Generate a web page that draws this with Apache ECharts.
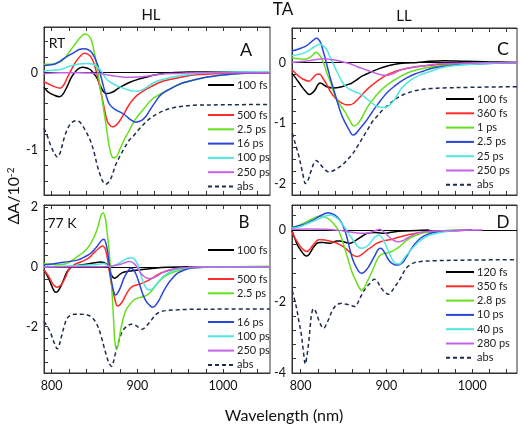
<!DOCTYPE html>
<html><head><meta charset="utf-8">
<script src="https://cdn.jsdelivr.net/npm/echarts@6/dist/echarts.min.js"></script>
<style>html,body{margin:0;padding:0;background:#fff}#c{width:520px;height:431px}</style>
</head><body><div id="c"></div>
<script>
// ---------- Panel A (HL, RT) ----------
const A_100fs = [[791,-0.19],[796,-0.25],[802.7,-0.29],[809,-0.31],[813,-0.28],[818,-0.18],[822,-0.08],[826,-0.01],[831,0.05],[836,0.07],[841,0.06],[845.6,0.035],[849,-0.01],[853,-0.07],[856,-0.15],[859,-0.22],[862,-0.26],[865,-0.27],[869,-0.26],[873,-0.24],[878,-0.2],[884.6,-0.16],[892,-0.12],[900,-0.09],[910,-0.06],[920,-0.03],[930,-0.01],[940,0.0],[960,0.01],[1000,0.01],[1055,0.0]];
const A_500fs = [[791,-0.117],[797,-0.15],[803,-0.18],[810,-0.2],[814,-0.16],[818,-0.07],[823,0.04],[828,0.14],[833,0.21],[838,0.25],[842,0.24],[846,0.2],[850,0.1],[853,-0.03],[856,-0.17],[859,-0.33],[862,-0.49],[865,-0.63],[868,-0.68],[871,-0.7],[875,-0.68],[879,-0.63],[884,-0.54],[889,-0.44],[894,-0.36],[900,-0.29],[908,-0.23],[916,-0.18],[925,-0.13],[935,-0.095],[950,-0.06],[966,-0.03],[1000,-0.01],[1055,0]];
const A_2p5ps = [[791,0.108],[800,0.11],[810,0.14],[816,0.2],[822,0.29],[828,0.38],[833,0.45],[838.6,0.5],[842,0.49],[845.6,0.44],[848,0.35],[851,0.19],[853,0.06],[855,-0.07],[858,-0.28],[861,-0.5],[864,-0.72],[867,-0.94],[869.5,-1.06],[872,-1.1],[875,-1.09],[877,-1.06],[880,-0.98],[884.6,-0.87],[890,-0.76],[896,-0.63],[902,-0.54],[908,-0.46],[914,-0.38],[920,-0.32],[931,-0.25],[940,-0.2],[947,-0.16],[955,-0.13],[966,-0.095],[980,-0.06],[1000,-0.03],[1020,-0.01],[1055,0.01]];
const A_16ps = [[791,0.09],[797,0.1],[803,0.108],[810,0.15],[818,0.21],[826,0.26],[832,0.3],[838,0.31],[842,0.3],[846,0.27],[850,0.2],[853,0.12],[855,0.056],[858,-0.07],[861,-0.2],[864,-0.31],[867,-0.4],[871,-0.45],[875,-0.48],[880,-0.51],[885,-0.54],[890,-0.59],[894,-0.62],[898,-0.64],[902,-0.63],[906,-0.61],[911,-0.55],[916,-0.46],[921,-0.38],[927,-0.29],[935,-0.23],[947,-0.16],[956,-0.12],[966,-0.095],[980,-0.06],[1000,-0.03],[1020,-0.01],[1055,0]];
const A_100ps = [[791,0.026],[810,0.04],[820,0.08],[830,0.11],[841.7,0.12],[848,0.11],[853,0.08],[858,0.02],[863,-0.07],[868,-0.12],[874.8,-0.16],[881,-0.19],[888.5,-0.22],[894,-0.235],[900,-0.24],[906,-0.22],[912,-0.18],[919,-0.13],[927,-0.095],[940,-0.06],[955,-0.03],[980,0.0],[1020,0.01],[1055,0.01]];
const A_250ps = [[791,-0.01],[810,0.0],[830,0.0],[845,-0.005],[855,-0.01],[866,-0.03],[878,-0.05],[888.5,-0.06],[900,-0.055],[915,-0.04],[927,-0.02],[945,-0.01],[970,0],[1055,0]];
const A_abs = [[791,-0.72],[795,-0.82],[798.8,-0.94],[803,-1.04],[806.6,-1.09],[810,-1.03],[814.4,-0.85],[818,-0.74],[822,-0.66],[828,-0.62],[832,-0.63],[835.8,-0.68],[840,-0.76],[845.6,-0.89],[850,-1.05],[853,-1.19],[856,-1.3],[859,-1.39],[863,-1.44],[866,-1.42],[869,-1.37],[872,-1.28],[874.8,-1.19],[880,-1.07],[884.6,-0.98],[890,-0.88],[896,-0.81],[902,-0.73],[908,-0.66],[915,-0.59],[923.5,-0.53],[931,-0.49],[939,-0.46],[954.7,-0.43],[966,-0.42],[1000,-0.415],[1055,-0.41]];

// ---------- Panel B (HL, 77 K) ----------
const B_100fs = [[791,-0.1],[795,-0.3],[798.8,-0.55],[802,-0.76],[804.6,-0.85],[807,-0.82],[810.5,-0.66],[814,-0.42],[818,-0.16],[822,-0.03],[826,0.03],[834,0.07],[841.7,0.1],[850,0.14],[857,0.17],[861,0.15],[865,0.07],[867,-0.05],[869,-0.21],[871,-0.33],[873,-0.38],[876,-0.34],[878.7,-0.27],[882,-0.2],[886.5,-0.16],[896,-0.12],[908,-0.08],[920,-0.04],[935,-0.01],[960,0.01],[1000,0.01],[1055,0]];
const B_500fs = [[791,-0.1],[795,-0.25],[798.8,-0.44],[802,-0.6],[805.8,-0.68],[809,-0.65],[812.4,-0.55],[816,-0.35],[820,-0.1],[826,0.07],[832,0.15],[837.8,0.21],[844,0.32],[849.5,0.48],[855,0.62],[859,0.7],[861,0.68],[863,0.57],[865,0.3],[867,-0.1],[870,-0.6],[873,-0.99],[875,-1.22],[876.8,-1.31],[879,-1.29],[882.6,-1.16],[887,-0.92],[892,-0.71],[896,-0.63],[900,-0.6],[905,-0.55],[910,-0.49],[916,-0.4],[923.5,-0.27],[930,-0.18],[939,-0.1],[950,-0.05],[960,-0.02],[1000,0],[1055,0]];
const B_2p5ps = [[791,0.12],[800,0.09],[806.6,0.07],[812,0.08],[818,0.12],[824,0.22],[830,0.35],[836,0.47],[841.7,0.63],[847,0.86],[851.4,1.13],[855,1.45],[857,1.69],[859,1.8],[860,1.82],[861.5,1.75],[863,1.57],[865,1.1],[867,0.57],[869,-0.2],[871,-1.11],[872.5,-1.9],[873.6,-2.45],[875.6,-2.76],[877,-2.7],[878.7,-2.45],[881,-2.05],[884.6,-1.61],[888,-1.38],[892.4,-1.22],[896,-1.11],[900,-1.05],[904,-1.02],[908,-0.99],[912,-0.93],[915.8,-0.83],[920,-0.68],[925.5,-0.49],[932,-0.32],[939,-0.21],[947,-0.13],[954.7,-0.08],[966,-0.03],[990,0],[1055,0.02]];
const B_16ps = [[791,0.07],[800,0.1],[814.4,0.16],[830,0.23],[840,0.36],[845.6,0.46],[852,0.65],[857,0.85],[859.5,0.92],[861,0.93],[863,0.82],[865,0.57],[867,0.15],[869,-0.32],[871,-0.66],[873,-0.88],[874.8,-0.94],[877,-0.88],[880.7,-0.66],[884,-0.4],[888.5,-0.16],[891,-0.06],[893,-0.04],[895,-0.08],[898,-0.21],[902,-0.52],[906,-0.88],[910,-1.14],[913.8,-1.27],[917.7,-1.35],[921,-1.3],[925.5,-1.11],[930,-0.85],[935,-0.6],[941,-0.38],[947,-0.21],[955,-0.1],[962.5,-0.04],[980,-0.01],[1000,0],[1055,0]];
const B_100ps = [[791,0.01],[820,0.03],[849.5,0.07],[857,0.1],[861,0.12],[864,0.08],[867,0.01],[870,0.02],[874.8,0.07],[880,0.15],[884.6,0.23],[889,0.29],[893,0.31],[896,0.28],[900,0.12],[903,-0.15],[906,-0.44],[909,-0.65],[912,-0.75],[915.8,-0.77],[918,-0.72],[921.6,-0.6],[926,-0.45],[931,-0.3],[939,-0.16],[947,-0.08],[960,-0.02],[980,0],[1055,0]];
const B_250ps = [[791,0],[860,0.01],[870,0.03],[880.7,0.09],[886,0.15],[890.4,0.18],[893,0.17],[896,0.12],[900,-0.02],[904,-0.21],[908,-0.32],[912,-0.38],[915.8,-0.39],[919,-0.36],[923.5,-0.3],[929,-0.2],[935,-0.12],[945,-0.05],[960,-0.02],[980,0],[1055,0]];
const B_abs = [[791,-1.83],[795,-2.0],[798.8,-2.22],[803,-2.55],[806.6,-2.75],[809,-2.6],[812.4,-2.22],[815,-1.95],[818,-1.72],[822,-1.62],[826,-1.59],[834,-1.59],[841.7,-1.61],[848,-1.72],[853,-1.94],[857,-2.25],[861,-2.67],[864,-2.98],[867,-3.23],[870,-3.34],[872,-3.2],[873.6,-3.0],[877,-2.62],[880.7,-2.28],[884,-2.1],[888.5,-1.98],[893,-1.92],[897,-1.95],[900,-2.0],[903,-2.05],[906,-2.09],[909,-2.03],[912,-1.94],[916,-1.8],[919.7,-1.66],[923,-1.57],[927.5,-1.5],[935,-1.46],[947,-1.44],[966,-1.42],[1000,-1.415],[1055,-1.41]];

// ---------- Panel C (LL, RT) ----------
const C_100fs = [[790,-0.18],[795,-0.27],[801.5,-0.4],[806,-0.48],[810,-0.53],[813,-0.51],[817,-0.45],[820,-0.37],[822.8,-0.34],[826,-0.36],[830.6,-0.4],[838,-0.42],[848,-0.4],[854,-0.37],[859.6,-0.34],[865,-0.29],[871,-0.23],[877,-0.19],[883,-0.15],[890,-0.11],[898,-0.07],[910,-0.03],[922,-0.01],[935.7,0],[950,0.02],[967,0.03],[990,0.02],[1020,0.01],[1052,0]];
const C_360fs = [[790,-0.12],[795,-0.19],[800,-0.25],[805,-0.29],[810,-0.31],[814,-0.26],[818,-0.2],[822,-0.19],[826,-0.26],[831,-0.38],[836.4,-0.52],[842,-0.61],[848,-0.67],[853,-0.7],[858,-0.7],[862,-0.67],[866,-0.62],[870,-0.56],[875,-0.48],[881,-0.4],[890,-0.3],[900,-0.21],[908,-0.16],[917,-0.12],[930,-0.08],[948,-0.05],[970,-0.03],[990,-0.02],[1020,-0.01],[1052,0]];
const C_1ps = [[790,0.08],[797,0.06],[803.9,0.055],[809,0.07],[814,0.12],[818,0.17],[821,0.14],[824.8,0.06],[828,-0.06],[831,-0.19],[835,-0.33],[840,-0.55],[846,-0.7],[852,-0.82],[857,-0.95],[862,-1.05],[866,-1.02],[869.8,-0.95],[874,-0.84],[879.5,-0.7],[885,-0.6],[889,-0.53],[895,-0.44],[900.8,-0.37],[908,-0.3],[916.3,-0.23],[925,-0.17],[935.7,-0.12],[950,-0.08],[966,-0.05],[990,-0.03],[1020,-0.01],[1052,0]];
const C_2p5ps = [[790,0.19],[795,0.21],[801,0.24],[806,0.27],[810,0.31],[815,0.37],[818.5,0.4],[821,0.38],[823.5,0.32],[826,0.2],[829,0.05],[832,-0.12],[835,-0.28],[839,-0.47],[843,-0.66],[847,-0.84],[851,-0.97],[856,-1.1],[861,-1.2],[864,-1.18],[868,-1.11],[875.6,-0.98],[880,-0.89],[885.3,-0.78],[891,-0.67],[896.9,-0.56],[902,-0.48],[908.6,-0.4],[916,-0.32],[924,-0.25],[933,-0.19],[943.4,-0.14],[952,-0.1],[962.8,-0.07],[980,-0.04],[1010,-0.02],[1052,0]];
const C_25ps = [[790,0.11],[797,0.13],[803,0.15],[810,0.2],[816,0.26],[822.8,0.3],[826,0.28],[830.6,0.21],[834,0.1],[838.5,-0.04],[843,-0.17],[848,-0.31],[853,-0.4],[859.6,-0.46],[866,-0.5],[871,-0.53],[877,-0.6],[883,-0.67],[888,-0.72],[893,-0.74],[898,-0.74],[902,-0.72],[906,-0.67],[910,-0.6],[916.3,-0.45],[923,-0.35],[931.8,-0.26],[940,-0.2],[951,-0.15],[962.8,-0.09],[980,-0.05],[1010,-0.02],[1052,0]];
const C_250ps = [[790,0],[805,0.02],[815,0.04],[826.7,0.06],[835,0.05],[844,0.03],[852,0.0],[858,-0.02],[866,-0.07],[874,-0.11],[881.4,-0.15],[890,-0.19],[897,-0.21],[902,-0.21],[907,-0.19],[912.4,-0.15],[920,-0.11],[935.7,-0.07],[950,-0.04],[962,-0.02],[990,-0.01],[1052,0]];
const C_abs = [[790.3,-1.17],[794,-1.35],[798,-1.55],[802,-1.8],[805.8,-2.0],[808.5,-1.95],[811.6,-1.82],[815,-1.68],[818,-1.62],[821,-1.65],[825,-1.72],[829,-1.78],[833,-1.81],[838,-1.79],[842.7,-1.75],[848,-1.7],[854.3,-1.61],[860,-1.52],[866,-1.39],[872,-1.25],[877.6,-1.12],[883,-0.99],[889,-0.89],[896,-0.78],[904.7,-0.67],[912,-0.59],[920,-0.53],[930,-0.48],[939.5,-0.45],[952,-0.43],[966,-0.42],[1000,-0.41],[1052,-0.4]];

// ---------- Panel D (LL, 77 K) ----------
const D_120fs = [[790,-0.02],[794,-0.28],[797,-0.45],[801.5,-0.61],[804,-0.69],[807.3,-0.73],[810,-0.68],[813,-0.56],[816,-0.45],[819,-0.37],[823,-0.35],[826.7,-0.35],[830,-0.36],[834.4,-0.37],[838,-0.34],[842,-0.31],[846,-0.31],[850,-0.33],[854,-0.36],[857.7,-0.37],[861,-0.34],[865.5,-0.27],[870,-0.2],[875,-0.12],[880,-0.08],[886.8,-0.07],[892,-0.08],[896,-0.09],[902,-0.08],[910,-0.05],[920,-0.03],[935,-0.01],[950,0]];
const D_350fs = [[790,-0.04],[794,-0.25],[798,-0.4],[801.5,-0.51],[805,-0.58],[807.3,-0.6],[810,-0.56],[813,-0.47],[817,-0.35],[821,-0.27],[825,-0.27],[828.6,-0.28],[834,-0.31],[840,-0.35],[845,-0.4],[850,-0.47],[854,-0.55],[857.7,-0.63],[861,-0.7],[865,-0.74],[868,-0.73],[873,-0.65],[878,-0.55],[883,-0.47],[888,-0.38],[893,-0.33],[898,-0.29],[902,-0.28],[908,-0.25],[914,-0.2],[921,-0.16],[928,-0.12],[940,-0.07],[955,-0.04],[975,-0.02],[1000,0]];
const D_2p8ps = [[790,0.07],[795,0.1],[801.5,0.17],[808,0.24],[815,0.33],[820,0.37],[824.8,0.39],[829,0.36],[834.4,0.28],[839,0.16],[844,0.0],[848,-0.25],[852,-0.56],[856,-0.88],[859.6,-1.16],[863,-1.35],[866,-1.5],[869,-1.64],[871,-1.69],[874,-1.62],[877,-1.47],[881.4,-1.26],[886,-1.0],[891,-0.75],[896,-0.66],[900.8,-0.64],[906,-0.6],[910,-0.55],[916,-0.45],[922,-0.32],[928,-0.22],[935,-0.14],[943.4,-0.08],[955,-0.04],[970,-0.01],[985,0]];
const D_10ps = [[790,0.07],[795,0.1],[801.5,0.14],[808,0.2],[815,0.28],[820,0.36],[824.8,0.42],[828.5,0.46],[832.5,0.48],[836,0.46],[840,0.42],[844,0.33],[848,0.19],[851,0.02],[853.8,-0.19],[856.5,-0.45],[859.6,-0.74],[862.5,-0.93],[865.5,-1.07],[868,-1.17],[871,-1.21],[874,-1.18],[877,-1.1],[879,-1.04],[883,-0.87],[886.8,-0.7],[890,-0.56],[892.6,-0.51],[895,-0.53],[898.4,-0.65],[901,-0.78],[904,-0.88],[907,-0.94],[911,-0.98],[914,-0.98],[917,-0.94],[920,-0.88],[924,-0.72],[928,-0.56],[933,-0.39],[939.5,-0.23],[947,-0.13],[955,-0.07],[970,-0.03],[1000,0]];
const D_40ps = [[790,0.05],[800,0.1],[809,0.19],[816,0.26],[824.8,0.35],[830,0.4],[834.4,0.42],[838,0.4],[844,0.3],[848,0.18],[852,0.05],[856,-0.1],[859.6,-0.23],[863,-0.35],[867,-0.47],[871,-0.51],[875,-0.49],[879,-0.42],[883,-0.3],[886.8,-0.19],[891.4,-0.14],[895,-0.22],[898.4,-0.37],[902,-0.58],[906,-0.79],[909,-0.9],[912,-0.94],[915,-0.95],[918,-0.88],[922,-0.74],[927,-0.6],[931.8,-0.47],[937,-0.34],[943,-0.23],[950,-0.15],[959,-0.09],[970,-0.04],[985,0]];
const D_280ps = [[790,0.02],[810,0.03],[830,0.02],[845,-0.01],[856,-0.05],[866,-0.08],[875,-0.09],[882,-0.06],[888.7,0.0],[892,0.02],[896,-0.03],[900,-0.12],[904.6,-0.23],[909,-0.3],[914,-0.33],[919,-0.3],[924,-0.23],[930,-0.15],[935.6,-0.09],[945,-0.05],[955,-0.03],[980,-0.01],[1012,0]];
const D_abs = [[790.3,-1.7],[793,-1.95],[795.7,-2.23],[798,-2.55],[800.7,-2.89],[803,-3.35],[805.6,-3.75],[807.5,-3.5],[809.3,-3.17],[811,-2.75],[812.4,-2.42],[815,-2.2],[818,-2.3],[821,-2.51],[825,-2.72],[827,-2.75],[830,-2.63],[832.5,-2.51],[836,-2.3],[840,-2.14],[844,-2.07],[848,-2.05],[852,-2.07],[856,-2.09],[860,-2.12],[864,-2.14],[867,-2.02],[871,-1.82],[876,-1.62],[881,-1.49],[886,-1.38],[889,-1.42],[892,-1.55],[895,-1.66],[899,-1.76],[902.5,-1.8],[906,-1.72],[910,-1.58],[914,-1.44],[918,-1.28],[922,-1.1],[926,-1.0],[931.8,-0.92],[940,-0.88],[955,-0.86],[1000,-0.84],[1052,-0.83]];

// ---------- names and ticks ----------
const A_names = ['100 fs','500 fs','2.5 ps','16 ps','100 ps','250 ps','abs'];
const B_names = ['100 fs','500 fs','2.5 ps','16 ps','100 ps','250 ps','abs'];
const C_names = ['100 fs','360 fs','1 ps','2.5 ps','25 ps','250 ps','abs'];
const D_names = ['120 fs','350 fs','2.8 ps','10 ps','40 ps','280 ps','abs'];
const xTicks = [800,820,840,860,880,900,920,940,960,980,1000,1020,1040];
const xLabels = [800,900,1000];
const A_yTicks = [-1.4,-1.2,-1,-0.8,-0.6,-0.4,-0.2,0,0.2,0.4];
const A_yLabels = [-1,0];
const B_yTicks = [-3.2,-2.8,-2.4,-2,-1.6,-1.2,-0.8,-0.4,0,0.4,0.8,1.2,1.6,2];
const B_yLabels = [-2,0,2];
const C_yTicks = [-2,-1.8,-1.6,-1.4,-1.2,-1,-0.8,-0.6,-0.4,-0.2,0,0.2,0.4];
const C_yLabels = [-2,-1,0];
const D_yTicks = [-4,-3.6,-3.2,-2.8,-2.4,-2,-1.6,-1.2,-0.8,-0.4,0,0.4];
const D_yLabels = [-4,-2,0];

const colors = ['#000000','#ff2a2a','#66e01e','#2a46d6','#4fe6e0','#c462e6','#1e2c4c'];
const FONT = 'Lato, "Liberation Sans", sans-serif';

const panels = [
  {id:'A', grid:{left:44, top:27, width:226, height:168}, x:[791,1055], y:[-1.58,0.59], yT:A_yTicks, yL:A_yLabels, showX:false,
   names:A_names, data:[A_100fs,A_500fs,A_2p5ps,A_16ps,A_100ps,A_250ps,A_abs],
   legends:[{left:207, top:79, w:26, items:[0]}, {left:207, top:109, w:26, items:[1,2,3,4,5,6]}]},
  {id:'B', grid:{left:44, top:205, width:226, height:168}, x:[791,1055], y:[-3.56,2.08], yT:B_yTicks, yL:B_yLabels, showX:true,
   names:B_names, data:[B_100fs,B_500fs,B_2p5ps,B_16ps,B_100ps,B_250ps,B_abs],
   legends:[{left:207, top:244, w:26, items:[0]}, {left:207, top:273, w:26, items:[1,2]}, {left:207, top:316, w:26, items:[3,4,5,6]}]},
  {id:'C', grid:{left:292, top:28, width:225, height:167}, x:[790,1052], y:[-2.19,0.57], yT:C_yTicks, yL:C_yLabels, showX:false,
   names:C_names, data:[C_100fs,C_360fs,C_1ps,C_2p5ps,C_25ps,C_250ps,C_abs],
   legends:[{left:445, top:93, w:28, items:[0,1,2,3,4,5,6]}]},
  {id:'D', grid:{left:292, top:205, width:225, height:168}, x:[790,1052], y:[-4.0,0.7], yT:D_yTicks, yL:D_yLabels, showX:true,
   names:D_names, data:[D_120fs,D_350fs,D_2p8ps,D_10ps,D_40ps,D_280ps,D_abs],
   legends:[{left:445, top:266, w:28, items:[0,1,2,3,4,5,6]}]}
];

const grid = [], xAxis = [], yAxis = [], series = [], legend = [];
panels.forEach((p, gi) => {
  grid.push(Object.assign({show:true, borderColor:'#333', borderWidth:1, backgroundColor:'transparent'}, p.grid));
  const axBase = {gridIndex:gi, type:'value', splitLine:{show:false},
    axisLine:{show:true, onZero:false, lineStyle:{color:'#333', width:1}}};
  xAxis.push(Object.assign({}, axBase, {min:p.x[0], max:p.x[1], position:'bottom',
    axisTick:{show:true, inside:true, length:4, customValues:xTicks, lineStyle:{color:'#333'}},
    axisLabel:{show:p.showX, customValues:xLabels, formatter: v => String(v), color:'#111', fontSize:12.5, fontFamily:FONT, margin:6}}));
  xAxis.push(Object.assign({}, axBase, {min:p.x[0], max:p.x[1], position:'top',
    axisTick:{show:true, inside:true, length:4, customValues:xTicks, lineStyle:{color:'#333'}},
    axisLabel:{show:false}}));
  yAxis.push(Object.assign({}, axBase, {min:p.y[0], max:p.y[1], position:'left',
    axisTick:{show:true, inside:true, length:4, customValues:p.yT, lineStyle:{color:'#333'}},
    axisLabel:{show:true, customValues:p.yL, formatter: v => String(v), color:'#111', fontSize:12.5, fontFamily:FONT, margin:6}}));
  p.data.forEach((d, si) => {
    const isAbs = si === 6;
    const s = {
      type:'line', name:p.names[si] + '|' + p.id, xAxisIndex:gi*2, yAxisIndex:gi,
      data:d, symbol:'none', smooth:0.35, z: isAbs ? 2 : 3 + si,
      lineStyle:{color:colors[si], width:1.5, type: isAbs ? [4,3] : 'solid'},
      itemStyle:{color:colors[si]}
    };
    if (si === 0) {
      s.markLine = {silent:true, symbol:'none', label:{show:false}, animation:false,
        lineStyle:{color:'#000', width:1.2, type:'solid'}, data:[{yAxis:0}]};
    }
    series.push(s);
  });
  p.legends.forEach(L => {
    legend.push({orient:'vertical', left:L.left, top:L.top, itemWidth:L.w, itemHeight:10, itemGap:2.3,
      padding:0, selectedMode:false,
      itemStyle:{opacity:0}, lineStyle:{width:2},
      data:L.items.map(i => p.names[i] + '|' + p.id),
      formatter: n => n.split('|')[0],
      textStyle:{fontSize:11, lineHeight:12, color:'#222', fontFamily:FONT, padding:[0,0,0,-2]}});
  });
});

const txt = (x, y, text, size, extra) => Object.assign({type:'text', x:x, y:y,
  style:{text:text, fontSize:size, fontFamily:FONT, fill:'#111', textAlign:'center', textVerticalAlign:'middle'}}, extra || {});

const graphic = [
  txt(283, 10, 'TA', 17),
  txt(151, 15, 'HL', 15),
  txt(404, 16, 'LL', 15),
  txt(57, 43, 'RT', 14),
  txt(246, 50, 'A', 18),
  txt(62, 223, '77 K', 14),
  txt(244, 223, 'B', 17),
  txt(503, 49, 'C', 18),
  txt(503, 223, 'D', 17),
  txt(284, 416, 'Wavelength (nm)', 16),
  {type:'text', x:14, y:196, rotation:Math.PI/2,
   style:{text:'{a|ΔA/10}{s|-2}', fontFamily:FONT, fill:'#111', textAlign:'center', textVerticalAlign:'middle',
     rich:{a:{fontSize:16, fontFamily:FONT, fill:'#111'}, s:{fontSize:10, fontFamily:FONT, fill:'#111', verticalAlign:'top'}}}}
];

const chart = echarts.init(document.getElementById('c'), null, {renderer:'canvas'});
chart.setOption({animation:false, backgroundColor:'#fff', grid, xAxis, yAxis, series, legend, graphic});
</script></body></html>
